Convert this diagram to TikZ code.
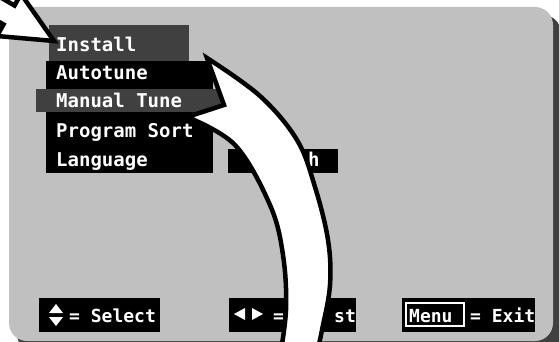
\documentclass[tikz,border=0pt]{standalone}
\usepackage{fontspec}
\setmonofont{DejaVu Sans Mono}
\usetikzlibrary{positioning,calc}
\definecolor{panelgrey}{HTML}{C0C0C0}
\definecolor{osddark}{HTML}{404040}
\tikzset{
  menutext/.style={text=white,font=\ttfamily\bfseries\fontsize{19}{19}\selectfont,inner sep=0pt,anchor=base west},
  keytext/.style={text=white,font=\ttfamily\bfseries\fontsize{18}{18}\selectfont,inner sep=0pt,anchor=base west},
  outlined/.style={fill=white,draw=black,line width=4.5pt,line join=miter}
}
\begin{document}
\begin{tikzpicture}[x=1pt,y=-1pt]
    \useasboundingbox (0,0) rectangle (559,342);
    \clip (0,0) rectangle (559,342);
    \fill[white] (0,0) rectangle (559,342);
    % panel with its shadow
    \fill[osddark,rounded corners=18pt] (17,15) rectangle (561,352);
    \fill[panelgrey,rounded corners=18pt] (9,7) rectangle (553,341);

    % menu
    \fill[osddark] (49,25) rectangle (189,61);
    \fill[black] (46,61) rectangle (213,173);
    \fill[osddark] (36,89) rectangle (232,112);
    \fill[black] (228,149) rectangle (338,173);
    \node[menutext] (install) at (56,52) {Install};
    \node[menutext] (autotune) at (56,80) {Autotune};
    \node[menutext] (manualtune) at (56,108) {Manual Tune};
    \node[menutext] (progsort) at (56,137) {Program Sort};
    \node[menutext] (language) at (56,166) {Language};
    \node[menutext] (searchend) at (308,166) {h};

    % key bar
    \fill[black] (39,298) rectangle (160,332);
    \fill[white] (49,313) -- (63,313) -- (56,304) -- cycle;
    \fill[white] (49,317) -- (63,317) -- (56,326) -- cycle;
    \node[keytext] (selectkey) at (69,322) {= Select};

    \fill[black] (229,298) rectangle (356,332);
    \fill[white] (245,308) -- (245,320) -- (234,314) -- cycle;
    \fill[white] (252,308) -- (252,320) -- (263,314) -- cycle;
    \node[keytext] (adjustkey) at (273,322) {=};
    \node[keytext] (adjustend) at (334,322) {st};

    \fill[black] (402,298) rectangle (535,332);
    \draw[white,line width=2pt] (406,303) rectangle (464,326);
    \node[keytext] (menukey) at (409,322) {Menu};
    \node[keytext] (exitkey) at (470,322) {= Exit};

    % big curved arrow
    \filldraw[outlined] (224,105) -- plot[smooth,tension=0.6] coordinates {(207,58) (260,96) (297,140) (315,187) (328,240) (330,285) (322,330) (315,362)}
        -- plot[smooth,tension=0.6] coordinates {(279,362) (286,310) (283,255) (270,205) (235,145) (187,117)} -- cycle;

    % small arrow onto Install
    \filldraw[outlined] (54,41) -- (21,-6) -- (14.5,5.5) -- (-11.5,-9.5) -- (-22.5,9.5) -- (3.5,24.5) -- (-3,36) -- cycle;
\end{tikzpicture}
\end{document}
